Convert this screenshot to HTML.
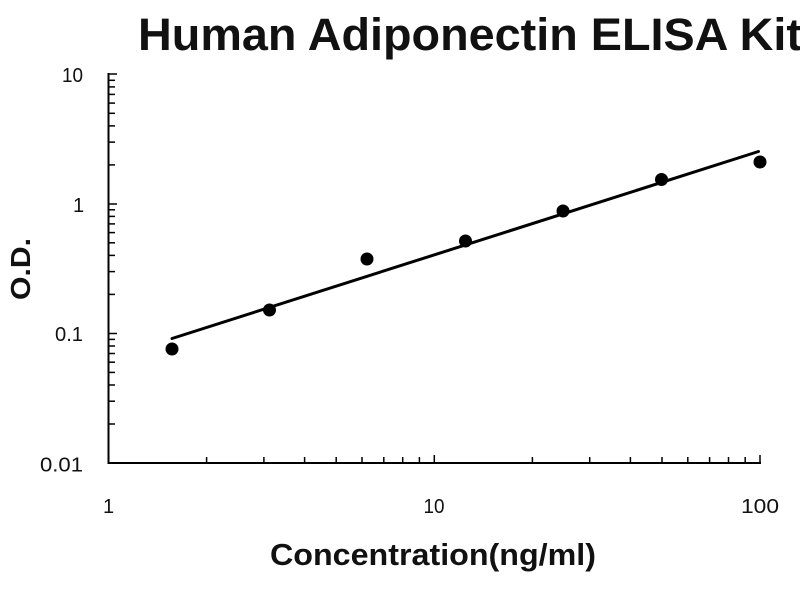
<!DOCTYPE html>
<html>
<head>
<meta charset="utf-8">
<style>
  html, body { margin: 0; padding: 0; background: #fff; }
  svg { display: block; }
  text { font-family: "Liberation Sans", Arial, sans-serif; fill: #111; }
</style>
</head>
<body>
<svg width="800" height="600" viewBox="0 0 800 600" xmlns="http://www.w3.org/2000/svg">
  <rect width="800" height="600" fill="#fff"/>
  <!-- Title -->
  <text x="138" y="50" font-size="45" font-weight="bold" textLength="664" lengthAdjust="spacingAndGlyphs">Human Adiponectin ELISA Kit</text>

  <!-- Axes -->
  <g stroke="#000" stroke-width="2" fill="none">
    <line x1="108.5" y1="73" x2="108.5" y2="464"/>
    <line x1="107.5" y1="463" x2="761" y2="463"/>
  </g>

  <!-- Y ticks -->
  <g stroke="#000" stroke-width="1.5">
    <line x1="108" y1="74" x2="117" y2="74"/>
    <line x1="108" y1="204" x2="117" y2="204"/>
    <line x1="108" y1="333.5" x2="117" y2="333.5"/>
    <line x1="108" y1="424" x2="115" y2="424"/>
    <line x1="108" y1="401.2" x2="115" y2="401.2"/>
    <line x1="108" y1="385" x2="115" y2="385"/>
    <line x1="108" y1="372.4" x2="115" y2="372.4"/>
    <line x1="108" y1="362.2" x2="115" y2="362.2"/>
    <line x1="108" y1="353.5" x2="115" y2="353.5"/>
    <line x1="108" y1="346" x2="115" y2="346"/>
    <line x1="108" y1="339.4" x2="115" y2="339.4"/>
    <line x1="108" y1="294.4" x2="115" y2="294.4"/>
    <line x1="108" y1="271.6" x2="115" y2="271.6"/>
    <line x1="108" y1="255.4" x2="115" y2="255.4"/>
    <line x1="108" y1="242.8" x2="115" y2="242.8"/>
    <line x1="108" y1="232.6" x2="115" y2="232.6"/>
    <line x1="108" y1="223.9" x2="115" y2="223.9"/>
    <line x1="108" y1="216.4" x2="115" y2="216.4"/>
    <line x1="108" y1="209.8" x2="115" y2="209.8"/>
    <line x1="108" y1="164.9" x2="115" y2="164.9"/>
    <line x1="108" y1="142.1" x2="115" y2="142.1"/>
    <line x1="108" y1="125.9" x2="115" y2="125.9"/>
    <line x1="108" y1="113.3" x2="115" y2="113.3"/>
    <line x1="108" y1="103.1" x2="115" y2="103.1"/>
    <line x1="108" y1="94.4" x2="115" y2="94.4"/>
    <line x1="108" y1="86.9" x2="115" y2="86.9"/>
    <line x1="108" y1="80.3" x2="115" y2="80.3"/>
  </g>

  <!-- X ticks -->
  <g stroke="#000" stroke-width="1.5">
    <line x1="434.3" y1="463" x2="434.3" y2="455"/>
    <line x1="760" y1="463" x2="760" y2="455"/>
    <line x1="206.6" y1="463" x2="206.6" y2="457"/>
    <line x1="263.9" y1="463" x2="263.9" y2="457"/>
    <line x1="304.6" y1="463" x2="304.6" y2="457"/>
    <line x1="336.2" y1="463" x2="336.2" y2="457"/>
    <line x1="362" y1="463" x2="362" y2="457"/>
    <line x1="383.8" y1="463" x2="383.8" y2="457"/>
    <line x1="402.7" y1="463" x2="402.7" y2="457"/>
    <line x1="419.4" y1="463" x2="419.4" y2="457"/>
    <line x1="532.4" y1="463" x2="532.4" y2="457"/>
    <line x1="589.7" y1="463" x2="589.7" y2="457"/>
    <line x1="630.4" y1="463" x2="630.4" y2="457"/>
    <line x1="662" y1="463" x2="662" y2="457"/>
    <line x1="687.8" y1="463" x2="687.8" y2="457"/>
    <line x1="709.6" y1="463" x2="709.6" y2="457"/>
    <line x1="728.5" y1="463" x2="728.5" y2="457"/>
    <line x1="745.2" y1="463" x2="745.2" y2="457"/>
  </g>

  <!-- Y tick labels -->
  <g font-size="20" fill="#222">
    <text x="62" y="82" textLength="21" lengthAdjust="spacingAndGlyphs">10</text>
    <text x="73" y="212">1</text>
    <text x="55" y="341" textLength="28" lengthAdjust="spacingAndGlyphs">0.1</text>
    <text x="40" y="471.5" textLength="43" lengthAdjust="spacingAndGlyphs">0.01</text>
  </g>

  <!-- X tick labels -->
  <g font-size="20" fill="#222">
    <text x="103" y="513">1</text>
    <text x="423.5" y="513" textLength="21" lengthAdjust="spacingAndGlyphs">10</text>
    <text x="741" y="513" textLength="38" lengthAdjust="spacingAndGlyphs">100</text>
  </g>

  <!-- Axis titles -->
  <text x="270" y="565" font-size="31" font-weight="bold" textLength="326" lengthAdjust="spacingAndGlyphs">Concentration(ng/ml)</text>
  <text transform="translate(30,269) rotate(-90)" font-size="28" font-weight="bold" text-anchor="middle" textLength="62" lengthAdjust="spacingAndGlyphs">O.D.</text>

  <!-- Fit line -->
  <line x1="172" y1="338.5" x2="758.5" y2="151.5" stroke="#000" stroke-width="3" stroke-linecap="round"/>

  <!-- Data points -->
  <g fill="#000">
    <circle cx="172" cy="349" r="6.5"/>
    <circle cx="269.5" cy="310" r="6.5"/>
    <circle cx="367" cy="259" r="6.5"/>
    <circle cx="465.5" cy="241" r="6.5"/>
    <circle cx="563" cy="211" r="6.5"/>
    <circle cx="661.5" cy="179.5" r="6.5"/>
    <circle cx="760" cy="162" r="6.5"/>
  </g>
</svg>
</body>
</html>
